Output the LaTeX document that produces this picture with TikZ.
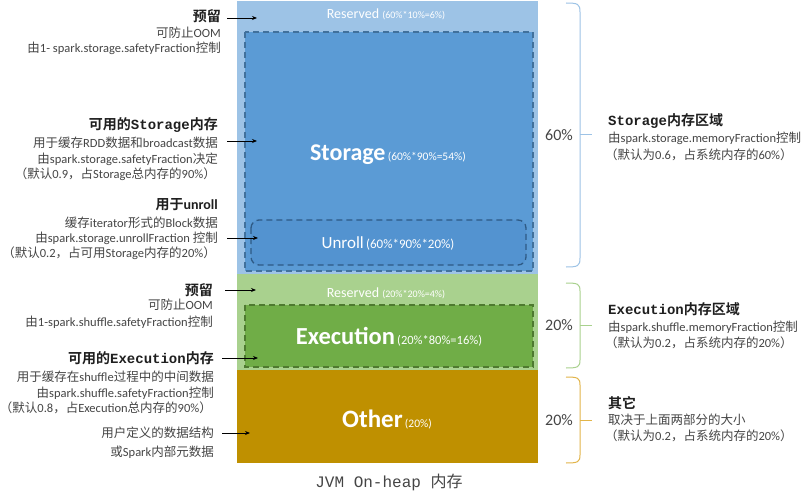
\documentclass[tikz,border=0pt]{standalone}
\usepackage{fontspec}
\setmainfont{Carlito}
\newfontfamily\cjkf{Noto Sans CJK SC}[BoldFont={Noto Sans CJK SC Bold}]
\newfontfamily\monof{Liberation Mono}
\usetikzlibrary{arrows.meta}
\newcommand\zh[1]{{\cjkf #1}}
\newcommand\mo[1]{{\monof #1}}
\definecolor{lblue}{HTML}{9DC3E6}
\definecolor{mblue}{HTML}{5B9BD5}
\definecolor{ublue}{HTML}{5393D0}
\definecolor{dblue}{HTML}{41719C}
\definecolor{ddblue}{HTML}{2E5A85}
\definecolor{lgreen}{HTML}{A9D18E}
\definecolor{mgreen}{HTML}{70AD47}
\definecolor{dgreen}{HTML}{4E7A30}
\definecolor{gold}{HTML}{BF9000}
\definecolor{bgold}{HTML}{E2B54A}
\definecolor{txt}{HTML}{454545}
\begin{document}
\begin{tikzpicture}[x=1pt,y=-1pt,
  lt/.style={anchor=east, inner sep=0pt, text=txt, font=\fontsize{12.5}{14}\selectfont},
  rt/.style={anchor=west, inner sep=0pt, text=txt, font=\fontsize{12.5}{14}\selectfont},
  hd/.style={font=\fontsize{14}{16}\selectfont\bfseries, text=black!88},
  arr/.style={-{Stealth[length=5pt,width=4pt]}, line width=0.9pt, black},
  wt/.style={text=white, inner sep=0pt},
  pct/.style={inner sep=0pt, text=txt, font=\fontsize{16}{18}\selectfont},
  dsh/.style={dash pattern=on 6pt off 4pt, line width=1.3pt}
]
\useasboundingbox[fill=white] (0,0) rectangle (812,492);

% column
\fill[lblue] (237,1) rectangle (538,274);
\draw[dsh, dblue, fill=mblue] (245,32) rectangle (533,271);
\draw[dsh, ddblue, fill=ublue, rounded corners=8pt] (251,220) rectangle (526,265);
\fill[lgreen] (237,274) rectangle (538,370);
\draw[dsh, dgreen, fill=mgreen] (245,305) rectangle (533,367);
\fill[gold] (237,370) rectangle (538,463);

% column texts
\node[wt] (res1) at (386,14) {\fontsize{14}{16}\selectfont Reserved {\fontsize{10}{12}\selectfont(60\%*10\%=6\%)}};
\node[wt] (stor) at (388,155) {{\fontsize{24}{26}\selectfont\bfseries Storage} {\fontsize{11.5}{13}\selectfont(60\%*90\%=54\%)}};
\node[wt] (unr) at (388,243) {{\fontsize{17}{19}\selectfont Unroll} {\fontsize{13}{15}\selectfont(60\%*90\%*20\%)}};
\node[wt] (res2) at (386,293) {\fontsize{14}{16}\selectfont Reserved {\fontsize{10}{12}\selectfont(20\%*20\%=4\%)}};
\node[wt] (exec) at (389,337) {{\fontsize{24.5}{27}\selectfont\bfseries Execution} {\fontsize{12.5}{14}\selectfont(20\%*80\%=16\%)}};
\node[wt] (oth) at (387,420) {{\fontsize{25}{27}\selectfont\bfseries Other} {\fontsize{11.5}{13}\selectfont(20\%)}};
\node[inner sep=0pt, text=txt, font=\fontsize{16}{18}\selectfont] (jvm) at (389,482) {\mo{JVM On-heap }\zh{内存}};

% left block 1
\node[lt,hd] (l1a) at (221,16) {\zh{\bfseries 预留}};
\node[lt] (l1b) at (221,33) {\zh{可防止}OOM};
\node[lt] (l1c) at (221,48) {\zh{由}1- spark.storage.safetyFraction\zh{控制}};
% left block 2
\node[lt,hd] (l2a) at (218,125) {\zh{\bfseries 可用的}\mo{\bfseries Storage}\zh{\bfseries 内存}};
\node[lt] (l2b) at (218,143) {\zh{用于缓存}RDD\zh{数据和}broadcast\zh{数据}};
\node[lt] (l2c) at (218,159) {\zh{由}spark.storage.safetyFraction\zh{决定}};
\node[lt] (l2d) at (216,174) {\zh{（默认}0.9\zh{，占}Storage\zh{总内存的}90\%\zh{）}};
% left block 3
\node[lt,hd] (l3a) at (218,205) {\zh{\bfseries 用于}\bfseries unroll};
\node[lt] (l3b) at (218,223) {\zh{缓存}iterator\zh{形式的}Block\zh{数据}};
\node[lt] (l3c) at (218,238) {\zh{由}spark.storage.unrollFraction \zh{控制}};
\node[lt] (l3d) at (216,253) {\zh{（默认}0.2\zh{，占可用}Storage\zh{内存的}20\%\zh{）}};
% left block 4
\node[lt,hd] (l4a) at (213,290) {\zh{\bfseries 预留}};
\node[lt] (l4b) at (213,305) {\zh{可防止}OOM};
\node[lt] (l4c) at (213,322) {\zh{由}1-spark.shuffle.safetyFraction\zh{控制}};
% left block 5
\node[lt,hd] (l5a) at (214,358) {\zh{\bfseries 可用的}\mo{\bfseries Execution}\zh{\bfseries 内存}};
\node[lt] (l5b) at (214,377) {\zh{用于缓存在}shuffle\zh{过程中的中间数据}};
\node[lt] (l5c) at (214,393) {\zh{由}spark.shuffle.safetyFraction\zh{控制}};
\node[lt] (l5d) at (212,408) {\zh{（默认}0.8\zh{，占}Execution\zh{总内存的}90\%\zh{）}};
% left block 6
\node[lt] (l6a) at (214,433) {\zh{用户定义的数据结构}};
\node[lt] (l6b) at (214,452) {\zh{或}Spark\zh{内部元数据}};

% arrows
\coordinate (a1s) at (227,18);  \coordinate (a1e) at (257,18);
\coordinate (a2s) at (227,141); \coordinate (a2e) at (257,141);
\coordinate (a3s) at (227,238); \coordinate (a3e) at (258,238);
\coordinate (a4s) at (225,290); \coordinate (a4e) at (256,290);
\coordinate (a5s) at (222,358); \coordinate (a5e) at (258,358);
\coordinate (a6s) at (222,433); \coordinate (a6e) at (250,433);
\draw[arr] (a1s) -- (a1e);
\draw[arr] (a2s) -- (a2e);
\draw[arr] (a3s) -- (a3e);
\draw[arr] (a4s) -- (a4e);
\draw[arr] (a5s) -- (a5e);
\draw[arr] (a6s) -- (a6e);

% braces
\draw[lblue, line width=1pt] (566,3) .. controls (578,3) and (580,4) .. (580,12) -- (580,258) .. controls (580,266) and (578,267) .. (566,267);
\draw[lblue, line width=1pt] (580,135) -- (592,135);
\draw[lgreen, line width=1pt] (566,283) .. controls (578,283) and (580,284) .. (580,291) -- (580,360) .. controls (580,367) and (578,368) .. (566,368);
\draw[lgreen, line width=1pt] (580,325) -- (592,325);
\draw[bgold, line width=1pt] (566,377) .. controls (578,377) and (580,378) .. (580,385) -- (580,455) .. controls (580,462) and (578,463) .. (566,463);
\draw[bgold, line width=1pt] (580,420) -- (592,420);

\node[pct] (p1) at (559,135) {60\%};
\node[pct] (p2) at (559,325) {20\%};
\node[pct] (p3) at (559,420) {20\%};

% right blocks
\node[rt,hd] (r1a) at (608,121) {\mo{\bfseries Storage}\zh{\bfseries 内存区域}};
\node[rt] (r1b) at (608,138) {\zh{由}spark.storage.memoryFraction\zh{控制}};
\node[rt] (r1c) at (605,155) {\zh{（默认为}0.6\zh{，占系统内存的}60\%\zh{）}};
\node[rt,hd] (r2a) at (608,309) {\mo{\bfseries Execution}\zh{\bfseries 内存区域}};
\node[rt] (r2b) at (608,327) {\zh{由}spark.shuffle.memoryFraction\zh{控制}};
\node[rt] (r2c) at (605,343) {\zh{（默认为}0.2\zh{，占系统内存的}20\%\zh{）}};
\node[rt,hd] (r3a) at (608,403) {\zh{\bfseries 其它}};
\node[rt] (r3b) at (608,420) {\zh{取决于上面两部分的大小}};
\node[rt] (r3c) at (605,436) {\zh{（默认为}0.2\zh{，占系统内存的}20\%\zh{）}};
\end{tikzpicture}
\end{document}
